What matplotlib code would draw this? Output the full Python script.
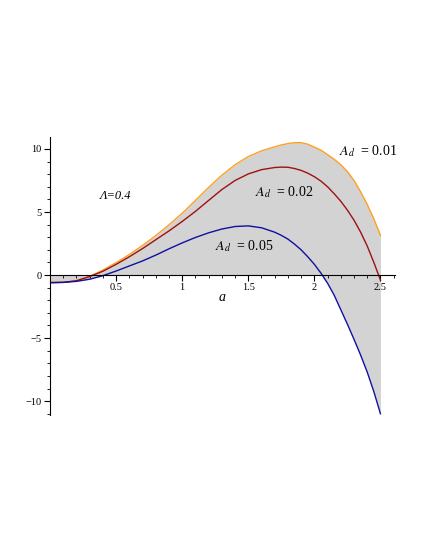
import matplotlib
matplotlib.use("Agg")
import matplotlib.pyplot as plt
from matplotlib.ticker import MultipleLocator

# valores (paso 0.1 hasta 1.7, luego 0.05)
a = [0.0, 0.1, 0.2, 0.3, 0.4, 0.5, 0.6, 0.7, 0.8, 0.9, 1.0, 1.1, 1.2, 1.3, 1.4, 1.5, 1.6,
     1.7, 1.75, 1.8, 1.85, 1.9, 1.95, 2.0, 2.05, 2.1, 2.15, 2.2, 2.25, 2.3, 2.35, 2.4, 2.45, 2.5]
y_001 = [-0.6, -0.58, -0.45, -0.1, 0.4, 0.98, 1.63, 2.35, 3.13, 3.98, 4.9, 5.92, 6.95, 7.92, 8.75, 9.4, 9.85,
         10.17, 10.32, 10.43, 10.5, 10.5, 10.38, 10.15, 9.9, 9.55, 9.18, 8.75, 8.2, 7.5, 6.6, 5.6, 4.45, 3.15]
y_002 = [-0.6, -0.58, -0.45, -0.12, 0.3, 0.85, 1.45, 2.1, 2.8, 3.5, 4.25, 5.05, 5.92, 6.78, 7.5, 8.02, 8.36,
         8.53, 8.56, 8.55, 8.45, 8.3, 8.08, 7.8, 7.45, 7.0, 6.45, 5.85, 5.15, 4.35, 3.4, 2.3, 1.0, -0.4]
y_005 = [-0.6, -0.58, -0.5, -0.33, -0.05, 0.32, 0.72, 1.12, 1.58, 2.08, 2.55, 2.98, 3.35, 3.65, 3.85, 3.9, 3.75,
         3.4, 3.15, 2.85, 2.45, 2.0, 1.45, 0.85, 0.15, -0.65, -1.6, -2.75, -3.9, -5.1, -6.35, -7.7, -9.25, -11.0]
etiquetas = ["0.01", "0.02", "0.05"]
colores = ["#FFA020", "#A01010", "#1010A0"]

plt.rcParams['font.family'] = ['Liberation Serif', 'DejaVu Serif']
plt.rcParams['mathtext.fontset'] = 'stix'

fig = plt.figure(figsize=(4.25, 5.5), dpi=100)
ax = fig.add_axes([50/425, 1 - 415/550, 345/425, 278/550])

# relleno de cada curva hasta el eje
for serie in [y_001, y_002, y_005]:
    ax.fill_between(a, serie, 0, color="#D3D3D3", linewidth=0)

for serie, c in zip([y_001, y_002, y_005], colores):
    ax.plot(a, serie, color=c, linewidth=1.0)

ax.set_xlim(0, 2.61)
ax.set_ylim(-11.1, 10.95)

ax.spines['top'].set_visible(False)
ax.spines['right'].set_visible(False)
ax.spines['bottom'].set_position(('data', 0))
ax.spines['left'].set_position(('data', 0))

ax.set_xticks([0.5, 1, 1.5, 2, 2.5])
ax.set_xticklabels(["0.5", "1", "1.5", "2", "2.5"])
ax.set_yticks([-10, -5, 0, 5, 10])
ax.set_yticklabels(["\u221210", "\u22125", "0", "5", "10"])
ax.xaxis.set_minor_locator(MultipleLocator(0.1))
ax.yaxis.set_minor_locator(MultipleLocator(1))
ax.tick_params(which='major', length=4, width=0.8, labelsize=7.5, pad=2)
ax.tick_params(which='minor', length=2, width=0.6)

ax.text(1.30, -1.8, "a", style='italic', fontsize=10, ha='center', va='center')
ax.text(0.38, 6.3, "\u039b=0.4", style='italic', fontsize=9, ha='left', va='center')

ax.text(2.19, 9.8, r"$A_d$  = " + etiquetas[0], fontsize=10, ha='left', va='center')
ax.text(1.55, 6.6, r"$A_d$  = " + etiquetas[1], fontsize=10, ha='left', va='center')
ax.text(1.25, 2.3, r"$A_d$  = " + etiquetas[2], fontsize=10, ha='left', va='center')

plt.savefig("out.png", dpi=100)
plt.close()
